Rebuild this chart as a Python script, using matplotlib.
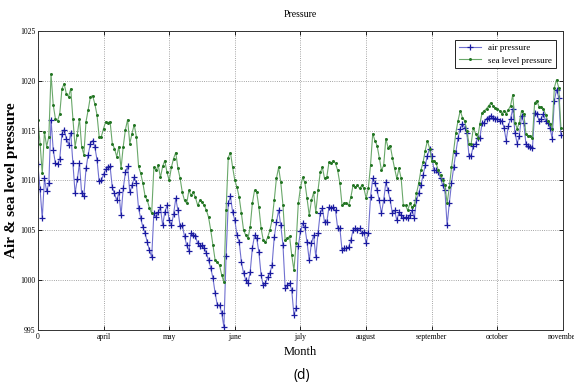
#!/usr/bin/env python

### Air and sea level pressure, daily values from march to november

import matplotlib
matplotlib.use("Agg")
import matplotlib.pyplot as plt

#######################################################################################################################
## daily values (day 0 = start of march)
air_pressure = [
    1011.6, 1009.1, 1006.2, 1010.2, 1008.9, 1009.7, 1016.1, 1013.1, 1011.7, 1011.6,
    1012.2, 1014.7, 1015.1, 1014.2, 1013.6, 1014.8, 1011.7, 1008.7, 1010.1, 1011.7,
    1008.7, 1008.4, 1011.2, 1012.6, 1013.7, 1014.0, 1013.4, 1012.1, 1009.9, 1010.0,
    1010.6, 1011.1, 1011.3, 1011.4, 1009.3, 1008.7, 1008.0, 1008.8, 1006.5, 1009.2,
    1010.8, 1011.4, 1008.8, 1009.5, 1010.3, 1009.7, 1007.2, 1006.2, 1005.3, 1004.7,
    1003.8, 1003.0, 1002.3, 1006.7, 1006.3, 1006.8, 1007.3, 1005.5, 1006.8, 1007.5,
    1006.0, 1005.5, 1006.6, 1008.2, 1007.0, 1005.4, 1005.5, 1004.4, 1003.5, 1002.9,
    1004.7, 1004.5, 1004.4, 1003.7, 1003.4, 1003.5, 1003.2, 1002.7, 1002.0, 1001.2,
    1000.2, 998.7, 997.5, 997.5, 996.7, 995.3, 1002.4, 1007.7, 1008.4, 1006.8,
    1006.0, 1004.5, 1003.8, 1001.8, 1000.7, 1000.0, 999.7, 1000.8, 1003.2, 1004.5,
    1004.2, 1002.8, 1000.5, 999.5, 999.7, 1000.3, 1000.7, 1001.5, 1004.3, 1005.8,
    1007.0, 1005.5, 1003.5, 999.2, 999.5, 999.7, 999.0, 996.5, 997.2, 1003.4,
    1004.9, 1005.7, 1005.3, 1003.8, 1002.0, 1003.7, 1004.5, 1002.3, 1004.7, 1006.7,
    1007.2, 1005.8, 1005.8, 1007.3, 1007.2, 1007.3, 1007.0, 1005.2, 1005.2, 1003.0,
    1003.2, 1003.2, 1003.3, 1004.0, 1005.0, 1005.2, 1005.0, 1005.2, 1004.7, 1004.8,
    1003.7, 1004.7, 1008.3, 1010.2, 1009.7, 1009.0, 1008.0, 1006.7, 1008.0, 1009.8,
    1009.0, 1008.0, 1006.7, 1007.0, 1006.0, 1006.8, 1006.5, 1006.2, 1006.3, 1006.2,
    1006.5, 1007.0, 1006.2, 1008.0, 1008.7, 1009.5, 1010.5, 1011.5, 1012.5, 1013.2,
    1012.5, 1011.0, 1011.0, 1010.8, 1010.2, 1009.5, 1009.0, 1005.5, 1007.7, 1009.7,
    1011.3, 1012.8, 1014.3, 1015.2, 1015.7, 1015.3, 1014.8, 1012.5, 1012.5, 1013.5,
    1013.7, 1014.3, 1014.3, 1015.8, 1015.8, 1016.2, 1016.3, 1016.5, 1016.3, 1016.2,
    1016.2, 1016.0, 1016.0, 1015.3, 1014.0, 1015.5, 1016.2, 1017.2, 1014.8, 1013.7,
    1014.5, 1016.5, 1015.8, 1013.7, 1013.5, 1013.4, 1013.3, 1016.8, 1016.7, 1016.0,
    1016.2, 1016.7, 1016.0, 1015.8, 1015.3, 1014.2, 1018.0, 1019.1, 1018.3, 1014.6,
]

sea_level_pressure = [
    1016.1, 1013.7, 1010.7, 1014.9, 1013.4, 1014.4, 1020.7, 1017.6, 1016.2, 1016.0,
    1016.7, 1019.2, 1019.7, 1018.7, 1018.4, 1019.2, 1016.2, 1013.4, 1014.6, 1016.2,
    1013.4, 1012.6, 1015.9, 1017.1, 1018.4, 1018.5, 1017.7, 1016.6, 1014.4, 1014.4,
    1015.2, 1015.9, 1015.8, 1015.9, 1013.7, 1013.2, 1012.4, 1013.4, 1011.2, 1013.4,
    1015.1, 1016.1, 1013.7, 1014.7, 1015.6, 1014.4, 1011.4, 1010.7, 1009.7, 1008.4,
    1008.0, 1007.2, 1006.7, 1011.3, 1011.0, 1011.5, 1010.3, 1011.4, 1012.0, 1010.8,
    1010.0, 1011.3, 1012.2, 1012.8, 1011.2, 1010.2, 1008.8, 1008.0, 1007.7, 1009.0,
    1008.5, 1008.8, 1008.3, 1007.5, 1008.0, 1007.8, 1007.5, 1007.0, 1006.3, 1005.0,
    1003.5, 1002.0, 1001.8, 1001.5, 1000.5, 999.8, 1007.0, 1012.3, 1012.8, 1011.3,
    1010.0, 1009.3, 1008.3, 1006.7, 1005.0, 1004.5, 1004.2, 1005.3, 1007.7, 1009.0,
    1008.8, 1007.3, 1005.2, 1004.0, 1003.8, 1004.3, 1005.0, 1006.0, 1008.0, 1010.2,
    1011.3, 1009.8, 1007.5, 1004.0, 1004.2, 1004.4, 1002.5, 1001.0, 1003.7, 1007.7,
    1009.3, 1010.3, 1009.8, 1008.2, 1006.5, 1008.0, 1008.8, 1006.8, 1009.0, 1010.8,
    1011.3, 1010.2, 1010.3, 1011.8, 1011.7, 1012.0, 1011.7, 1011.0, 1009.7, 1007.5,
    1007.7, 1007.7, 1007.5, 1008.3, 1009.5, 1009.3, 1009.5, 1009.2, 1009.5, 1009.2,
    1008.2, 1009.2, 1011.5, 1014.7, 1014.0, 1013.5, 1012.3, 1011.0, 1011.5, 1014.2,
    1013.3, 1013.5, 1012.3, 1011.2, 1010.2, 1011.2, 1010.2, 1007.5, 1007.5, 1007.0,
    1007.7, 1007.3, 1007.5, 1008.7, 1009.7, 1011.0, 1011.8, 1013.0, 1014.0, 1013.2,
    1012.0, 1012.0, 1011.7, 1011.0, 1010.5, 1010.0, 1009.5, 1007.7, 1009.3, 1011.3,
    1013.0, 1014.8, 1016.0, 1017.0, 1016.3, 1016.0, 1015.0, 1013.7, 1013.7, 1015.3,
    1014.7, 1014.3, 1015.7, 1016.8, 1017.0, 1017.2, 1017.5, 1017.8, 1017.5, 1017.3,
    1017.2, 1017.0, 1016.7, 1017.0, 1016.7, 1017.1, 1017.5, 1018.6, 1015.8, 1015.2,
    1015.8, 1017.0, 1016.7, 1014.7, 1014.5, 1014.5, 1014.3, 1017.8, 1018.0, 1017.4,
    1017.4, 1017.2, 1016.6, 1016.0, 1015.7, 1015.2, 1019.3, 1020.1, 1019.3, 1015.3,
]

month_ticks = [0, 30, 60, 90, 120, 150, 180, 210, 240]
month_labels = ["0", "april", "may", "june", "july", "august", "september", "october", "november"]
pressure_ticks = [995, 1000, 1005, 1010, 1015, 1020, 1025]
#######################################################################################################################

days = list(range(len(air_pressure)))
serif = "Liberation Serif"

fig = plt.figure(figsize=(5.74, 3.91), dpi=100)
ax = fig.add_axes([0.066, 0.156, 0.915, 0.765])

## light line, dark markers (like the matlab export)
ax.plot(days, air_pressure, "-", color="#7070d0", lw=0.8, marker="+", ms=4, mew=0.9,
        mec="#1a1aa0", label="air pressure")
ax.plot(days, sea_level_pressure, "-", color="#6aa86a", lw=0.8, marker=".", ms=2.3,
        mec="#237523", mfc="#237523", label="sea level pressure")

ax.set_xlim(0, 240)
ax.set_ylim(995, 1025)
ax.set_xticks(month_ticks)
ax.set_xticklabels(month_labels, family=serif, fontsize=5.5)
ax.set_yticks(pressure_ticks)
ax.set_yticklabels([str(p) for p in pressure_ticks], family=serif, fontsize=5.5)
ax.tick_params(direction="in", length=3, width=0.6, top=True, right=True, pad=2)
ax.grid(True, linestyle=":", color="#888888", lw=0.6)
for s in ax.spines.values():
    s.set_linewidth(0.7)
    s.set_color("#333333")

ax.set_title("Pressure", family=serif, fontsize=7, pad=10)
ax.set_xlabel("Month", family=serif, fontsize=9, labelpad=4)
ax.set_ylabel("Air & sea level pressure", family=serif, fontsize=11, fontweight="bold")
ax.yaxis.set_label_coords(-0.037, 0.5)

leg = ax.legend(loc="upper right", prop={"family": serif, "size": 6.5}, fancybox=False,
                edgecolor="#222222", framealpha=1, borderpad=0.4, handlelength=2.5,
                bbox_to_anchor=(0.995, 0.985))
leg.get_frame().set_linewidth(0.7)

fig.text(0.525, 0.04, "(d)", ha="center", va="center", fontsize=10, family="Open Sans")

plt.savefig("out.png", dpi=100)
